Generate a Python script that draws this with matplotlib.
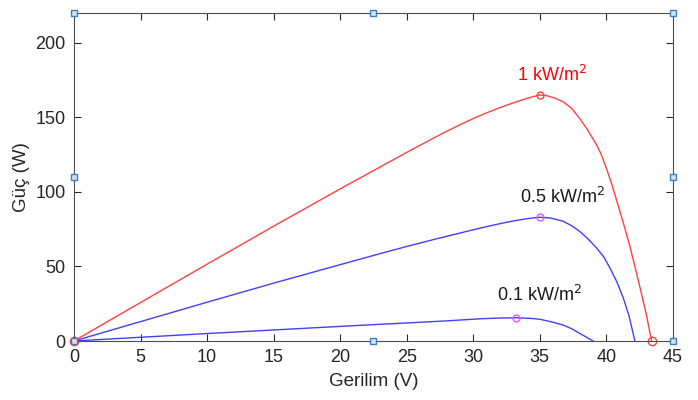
import matplotlib.pyplot as plt

plt.rcParams['font.family'] = ['Liberation Sans', 'DejaVu Sans']

# values (V, W)
v_1000 = [0, 5, 10, 15, 20, 25, 27, 28, 29, 30, 31, 32, 33, 34, 34.5, 35, 35.5, 36,
          36.76, 37.4, 38.0, 38.6, 39.27, 39.6, 40.0, 40.4, 40.77, 41.3, 41.77, 42.2,
          42.5, 43.0, 43.4]
p_1000 = [0, 25.8, 51.5, 77, 102, 126.5, 136, 140.6, 145, 149.2, 153, 156.5, 159.7, 162.6,
          163.9, 165, 164.6, 163.3, 160.5, 156, 149.3, 141.5, 131.5, 125.5, 116, 105.5,
          94.5, 78.5, 63.5, 48, 37, 18, 0]

v_500 = [0, 5, 10, 15, 20, 23, 25, 27, 29, 30, 31, 32, 33, 34, 35, 35.8, 36.76, 37.4,
         38.0, 38.6, 39.27, 39.8, 40.27, 40.8, 41.27, 41.7, 42.15]
p_500 = [0, 13, 26, 38.8, 51.2, 58.6, 63.4, 68, 72.4, 74.6, 76.7, 78.7, 80.5, 82, 83,
         82.5, 80.3, 77.3, 73.5, 68.7, 62.4, 56.5, 49, 39.5, 29, 17, 0]

v_100 = [0, 5, 10, 15, 20, 23, 25, 28, 30, 30.5, 32, 33.2, 34.26, 35, 35.8, 36.76,
         37.4, 38.0, 38.5, 39.0]
p_100 = [0, 2.5, 5.0, 7.4, 9.8, 11.2, 12.1, 13.5, 14.6, 14.9, 15.4, 15.6, 15.2, 14.6,
         13.0, 10.7, 8.2, 5.1, 2.6, 0]

mpp_v = [35, 35, 33.2]
mpp_p = [165, 83, 15.6]

fig = plt.figure(figsize=(6.98, 4), dpi=100)
ax = fig.add_axes([0.106, 0.1475, 0.858, 0.82])

red = '#ff4040'
blue = '#4040ff'
mag = '#ff50ff'

ax.plot(v_1000, p_1000, color=red, lw=1)
ax.plot(v_500, p_500, color=blue, lw=1)
ax.plot(v_100, p_100, color=blue, lw=1)

# maximum power points and end points
ax.plot(mpp_v[0], mpp_p[0], 'o', mfc='none', mec=red, ms=5, mew=1)
ax.plot([0, v_1000[-1]], [0, 0], 'o', mfc='none', mec=red, ms=6, mew=1, clip_on=False)
ax.plot(mpp_v[1:], mpp_p[1:], 'o', mfc='none', mec=mag, ms=5, mew=1)

ax.text(35.9, 172, '1 kW/m$^2$', color='red', fontsize=13, ha='center', va='bottom')
ax.text(36.7, 90, '0.5 kW/m$^2$', color='#1a1a1a', fontsize=13, ha='center', va='bottom')
ax.text(35, 24, '0.1 kW/m$^2$', color='#1a1a1a', fontsize=13, ha='center', va='bottom')

ax.set_xlim(0, 45)
ax.set_ylim(0, 220)
ax.set_xticks(range(0, 46, 5))
ax.set_yticks(range(0, 201, 50))
ax.tick_params(direction='in', length=5, width=0.8, colors='#262626', labelsize=13,
               top=True, right=True, pad=6)
for s in ax.spines.values():
    s.set_color('#4d4d4d')
    s.set_linewidth(0.8)

ax.set_xlabel('Gerilim (V)', fontsize=13.5, color='#262626', labelpad=5)
ax.set_ylabel('Güç (W)', fontsize=13.5, color='#262626', labelpad=4)

# selection handles on the axes box
hx = [0, 22.5, 45, 0, 45, 0, 22.5, 45]
hy = [0, 0, 0, 110, 110, 220, 220, 220]
ax.plot(hx, hy, 's', ms=4.5, mfc='#cfe3f5', mec='#3f7fbf', mew=1, clip_on=False, zorder=5)

fig.savefig('out.png', dpi=100)
